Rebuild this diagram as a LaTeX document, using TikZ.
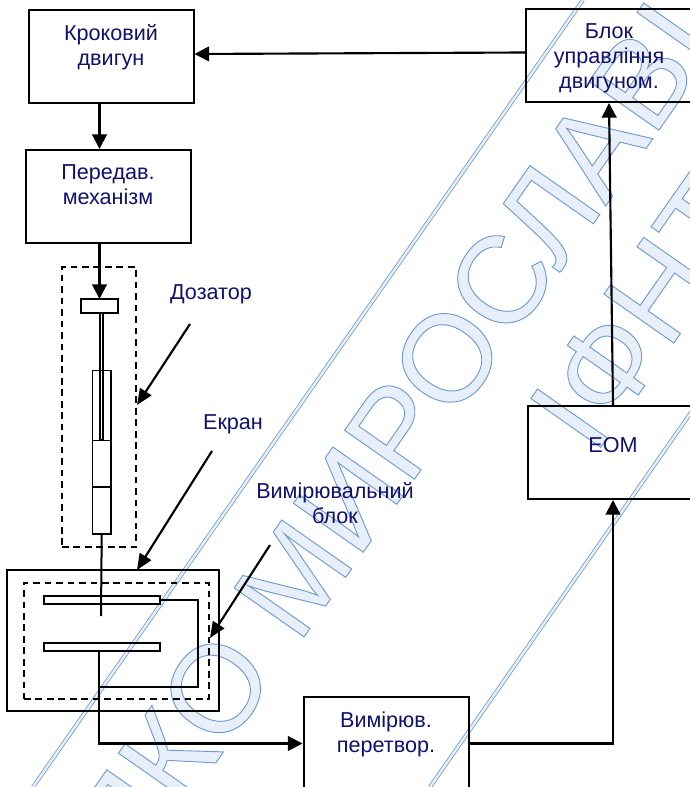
\documentclass[tikz,border=0pt]{standalone}
\usepackage{xcolor}
\usepackage{fontspec}
\setmainfont{Liberation Sans}
\usepackage{tikz}
\usetikzlibrary{arrows.meta,positioning,calc}
\definecolor{labelnavy}{HTML}{10106E}
\definecolor{markblue}{HTML}{6C9BD2}
\definecolor{markfill}{HTML}{E9EFF8}
\def\px{.75pt}
\newcommand{\hollowmark}[1]{\special{pdf:code q 0.914 0.937 0.973 rg 0.424 0.608 0.824 RG 0.7 w 2 Tr}#1\special{pdf:code Q}}

\begin{document}
\begin{tikzpicture}[
  x=.75pt,y=-.75pt,
  block/.style={draw,line width=1.5pt,minimum width=165*\px,minimum height=93*\px,inner sep=0pt,align=center,text=labelnavy,font=\fontsize{16.2}{18.75}\selectfont},
  part/.style={draw,line width=1.3pt,inner sep=0pt,outer sep=0pt},
  zone/.style={draw,line width=1.3pt,dash pattern=on 5pt off 3.6pt,inner sep=0pt},
  lbl/.style={text=labelnavy,align=center,inner sep=0pt,font=\fontsize{16.2}{18.75}\selectfont},
  arr/.style={-{Triangle[length=11pt,width=11pt]},line width=1.6pt},
  ptr/.style={-{Triangle[length=12pt,width=10pt]},line width=1.6pt},
  wire/.style={line width=1.5pt},
  markline/.style={draw=markblue,line width=.6pt,double=markfill,double distance=1.8pt},
  marktext/.style={inner sep=0pt,anchor=base west,rotate=55,font=\fontsize{93}{93}\selectfont}]
  \useasboundingbox (0,0) rectangle (689,787);
  % watermark
  \draw[markline] (33,787) -- (583,0);
  \draw[markline] (430,787) -- (692,411);
  \node[marktext] (markname) at (131,884) {\hollowmark{ЯКО МИРОСЛАВІ}};
  \node[marktext] (markinst) at (594,457) {\hollowmark{ІФНТУ}};
  % blocks
  \node[block] (krok) at (111,57) {Кроковий\\двигун\\[-7pt]\strut};
  \node[block] (pered) at (108,196.5) {Передав.\\механізм\\[-7pt]\strut};
  \node[block,minimum width=166*\px] (ctrl) at (609,55.5) {\rule{0pt}{16pt}Блок\\управління\\двигуном.};
  \node[block,minimum width=170*\px,text depth=16*\px] (eom) at (613,452.5) {ЕОМ};
  \node[block] (meas) at (386,743.5) {Вимірюв.\\перетвор.\\[-7pt]\strut};
  % dispenser
  \node[part,minimum width=37.5*\px,minimum height=14*\px] (head) at (99.5,306) {};
  \node[part,minimum width=3*\px,minimum height=127*\px] (rod) at (101.3,376.5) {};
  \node[part,minimum width=18.5*\px,minimum height=70*\px] (cella) at (101.7,405.5) {};
  \node[part,minimum width=18.5*\px,minimum height=46.5*\px,below=0pt of cella] (cellb) {};
  \node[part,minimum width=18.5*\px,minimum height=47*\px,below=0pt of cellb] (cellc) {};
  \node[zone,minimum width=74*\px,minimum height=280*\px] (dosbox) at (99,407) {};
  % measuring cell
  \node[part,line width=1.5pt,minimum width=212*\px,minimum height=141*\px] (screen) at (113,640.5) {};
  \node[zone,minimum width=185*\px,minimum height=116*\px] (shield) at (116.5,641) {};
  \node[part,minimum width=116*\px,minimum height=8*\px] (platetop) at (102,600) {};
  \node[part,minimum width=116*\px,minimum height=8*\px] (platebot) at (102,647) {};
  \coordinate (needletip) at (101,616);
  \coordinate (wirejoin) at (99,687);
  % labels
  \node[lbl] (dozlbl) at (211,294) {Дозатор};
  \node[lbl] (ekrlbl) at (233,424) {Екран};
  \node[lbl] (vimlbl) at (335,503) {Вимірювальний\\блок};
  \coordinate (dozfrom) at (190,324);
  \coordinate (dozto) at (137,405);
  \coordinate (ekrfrom) at (212,451);
  \coordinate (ekrto) at (137,570);
  \coordinate (vimfrom) at (270,545);
  \coordinate (vimto) at (210,638);
  % connectors
  \draw[arr] ($(ctrl.west)+(0,-3)$) -- ($(krok.east)+(0,-3)$);
  \draw[arr] (krok.south -| head.north) -- (pered.north -| head.north);
  \draw[arr] (pered.south -| head.north) -- (head.north);
  \draw[arr] (eom.north) -- (ctrl.south);
  \draw[arr] (meas.east) -| (eom.south);
  \draw[arr] (wirejoin |- platebot.south) |- (meas.west);
  \draw[wire] (cellc.south) -- (needletip);
  \draw[wire] (platetop.east) -- ++(38,0) |- (wirejoin);
  \foreach \a/\b in {dozfrom/dozto,ekrfrom/ekrto,vimfrom/vimto} \draw[ptr] (\a) -- (\b);
\end{tikzpicture}
\end{document}
